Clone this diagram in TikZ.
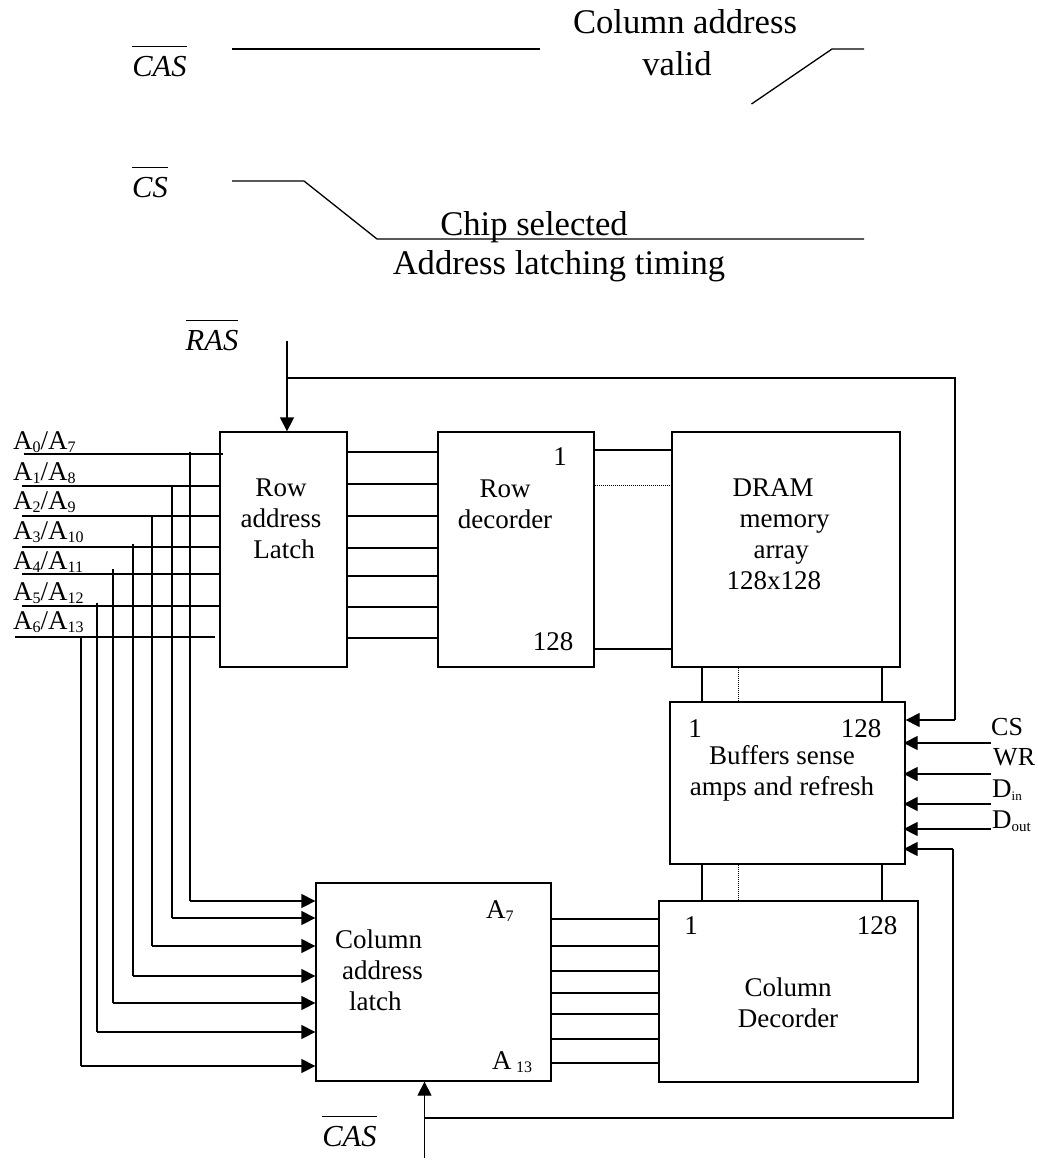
\documentclass[tikz,border=0pt]{standalone}
\usepackage{fontspec}
\setmainfont{Liberation Serif}
\usetikzlibrary{arrows.meta, positioning}
\newcommand{\barsig}[1]{\ensuremath{\overline{\mbox{\rule{0pt}{28pt}\itshape #1}}}}
\newcommand{\subtxt}[2][16]{\raisebox{-3.5pt}{\fontsize{#1}{#1}\selectfont #2}}

\begin{document}
\begin{tikzpicture}[
    x=1pt, y=-1pt,
    block/.style={rectangle, draw, line width=1.3pt, inner sep=0pt},
    wire/.style={line width=1.3pt},
    dotwire/.style={line width=1pt, densely dotted},
    arrow/.style={-{Triangle[length=14pt, width=14pt]}, line width=1.3pt},
    label/.style={font=\fontsize{27}{31}\selectfont, inner sep=0pt, align=center},
    biglabel/.style={font=\fontsize{34.6}{38}\selectfont, inner sep=0pt, anchor=base},
    sublabel/.style={font=\fontsize{27}{31}\selectfont, inner sep=0pt, anchor=base west},
    siglabel/.style={font=\fontsize{30.5}{34}\selectfont, inner sep=0pt, anchor=base}
]
\useasboundingbox (0,0) rectangle (1037,1170);

% Blocks
\node[block, minimum width=127pt, minimum height=235pt] (rowlatch) at (283.5,549.5) {};
\node[block, minimum width=156pt, minimum height=235pt] (rowdec) at (516,549.5) {};
\node[block, minimum width=228pt, minimum height=235pt] (dram) at (786,549.5) {};
\node[block, minimum width=235pt, minimum height=162pt] (buffers) at (787.5,783) {};
\node[block, minimum width=235pt, minimum height=198pt] (collatch) at (433.5,982) {};
\node[block, minimum width=259pt, minimum height=181pt] (coldec) at (788.5,991.5) {};

% Block texts
\node[label] (rowlatchtext) at (281,519) {Row\\address\\\hspace*{6pt}Latch};
\node[label] (rowdectext) at (505,504) {Row\\decorder};
\node[label] (rowdecone) at (560,457) {1};
\node[label] (rowdecend) at (553,642) {128};
\node[label, align=left] (dramtext) at (778,534) {\hspace*{6pt}DRAM\\\hspace*{13pt}memory\\\hspace*{27pt}array\\128x128};
\node[label] (bufone) at (695,729) {1};
\node[label] (bufend) at (861,729) {128};
\node[label] (buftext) at (782,773) {Buffers sense\\amps and refresh};
\node[label] (colone) at (691,926) {1};
\node[label] (colend) at (877,926) {128};
\node[label] (coldectext) at (788,1003) {Column\\Decorder};
\node[label, align=left] (collatchtext) at (379,970) {Column\\\hspace*{7pt}address\\\hspace*{14pt}latch};
\node[sublabel] (collatchin) at (486,918) {A\subtxt{7}};
\node[sublabel] (collatchout) at (492,1069) {A\,\subtxt{13}};

% Address inputs
\node[sublabel] (addr0) at (13,449) {A\subtxt{0}/A\subtxt{7}};
\node[sublabel] (addr1) at (13,480) {A\subtxt{1}/A\subtxt{8}};
\node[sublabel] (addr2) at (13,509) {A\subtxt{2}/A\subtxt{9}};
\node[sublabel] (addr3) at (13,539) {A\subtxt{3}/A\subtxt{10}};
\node[sublabel] (addr4) at (13,569) {A\subtxt{4}/A\subtxt{11}};
\node[sublabel] (addr5) at (13,600) {A\subtxt{5}/A\subtxt{12}};
\node[sublabel] (addr6) at (13,629) {A\subtxt{6}/A\subtxt{13}};

\draw[wire] (24,454) -- (223,454);
\foreach \y in {486,516,547,574,606}
    \draw[wire] (22,\y) -- (rowlatch.west |- 0,\y);
\draw[wire] (15,637) -- (215,637);

% Address lines to the column latch
\foreach \x/\ytop/\y in {190/452/901, 172/486/918, 152/516/946, 133/544/976, 113/569/1003, 97/603/1032, 81/637/1066} {
    \draw[wire] (\x,\ytop) -- (\x,\y);
    \draw[arrow] (\x,\y) -- (collatch.west |- 0,\y);
}

% Between blocks
\foreach \y in {452,484,516,548,576,607,638}
    \draw[wire] (rowlatch.east |- 0,\y) -- (rowdec.west |- 0,\y);
\foreach \y in {450,649}
    \draw[wire] (rowdec.east |- 0,\y) -- (dram.west |- 0,\y);
\draw[dotwire] (rowdec.east |- 0,485) -- (dram.west |- 0,485);
\foreach \x in {702,882} {
    \draw[wire] (\x,0 |- dram.south) -- (\x,0 |- buffers.north);
    \draw[wire] (\x,0 |- buffers.south) -- (\x,0 |- coldec.north);
}
\draw[dotwire] (738,0 |- dram.south) -- (738,0 |- buffers.north);
\draw[dotwire] (738,0 |- buffers.south) -- (738,0 |- coldec.north);
\foreach \y in {919,946,971,993,1014,1039,1063}
    \draw[wire] (collatch.east |- 0,\y) -- (coldec.west |- 0,\y);

% Control signals
\node[siglabel] (rasbar) at (212,350) {\barsig{RAS}};
\coordinate (rastop) at (287,341);
\draw[arrow] (rastop) -- (rastop |- rowlatch.north);
\draw[wire] (287,378) -- (955,378) -- (955,720);
\draw[arrow] (955,720) -- (buffers.east |- 0,720);

\node[sublabel, font=\fontsize{26}{30}\selectfont] (cs) at (991,735) {CS};
\node[sublabel, font=\fontsize{26}{30}\selectfont] (wr) at (993,765) {WR};
\node[sublabel] (din) at (992,797) {D\subtxt[13]{in}};
\node[sublabel] (dout) at (992,828) {D\subtxt[15]{out}};
\foreach \y in {743,774,804,829}
    \draw[arrow, shorten >=-2pt] (991,\y) -- (buffers.east |- 0,\y);

\node[siglabel] (casbar) at (349.5,1146) {\barsig{CAS}};
\coordinate (casbottom) at (424.5,1158);
\draw[arrow] (casbottom) -- (casbottom |- collatch.south);
\draw[wire] (424.5,1118) -- (953,1118) -- (953,849);
\draw[arrow, shorten >=-2pt] (953,849) -- (buffers.east |- 0,849);

% Timing
\node[siglabel] (castop) at (159.5,76) {\barsig{CAS}};
\draw[wire] (232,49) -- (540,49);
\node[biglabel] (colvalid) at (685,33) {Column address};
\node[biglabel] (validtext) at (677,75) {valid};
\coordinate (casrise) at (832,49);
\draw[wire] (751.5,104) -- (casrise) -- (864,49);

\node[siglabel] (cstop) at (150,197) {\barsig{CS}};
\draw[wire] (232,181) -- (304,181) -- (377,239) -- (864,239);
\node[biglabel] (chipsel) at (534,235) {Chip selected};
\node[biglabel] (addrtime) at (559,274) {Address latching timing};

\end{tikzpicture}
\end{document}
